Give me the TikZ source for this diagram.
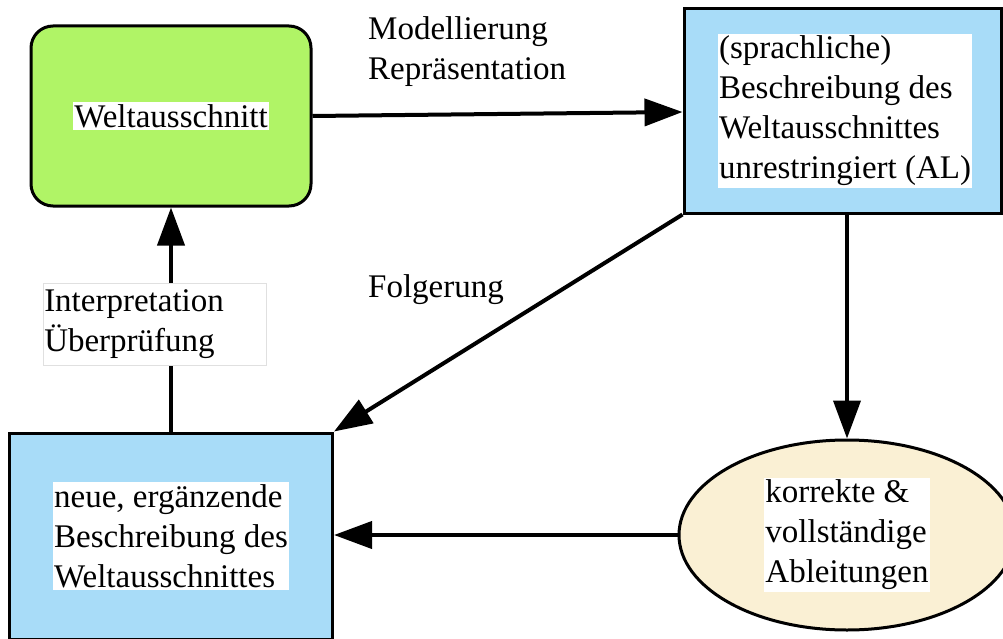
\documentclass[tikz,border=0pt]{standalone}
\usepackage{fontspec}
\setmainfont{Liberation Serif}
\usetikzlibrary{arrows.meta,shapes.geometric}
\definecolor{wgreen}{RGB}{176,244,102}
\definecolor{wblue}{RGB}{168,220,248}
\definecolor{wbeige}{RGB}{250,240,212}
\tikzset{
  box/.style={draw=black,line width=3pt,inner sep=0pt},
  txt/.style={fill=white,align=left,inner xsep=1pt,inner ysep=2pt,font=\fontsize{33}{40}\selectfont},
  lbl/.style={align=left,inner sep=0pt,anchor=north west,font=\fontsize{33}{40}\selectfont},
  arr/.style={line width=4pt,-{Triangle[length=38pt,width=27pt]}},
}
\begin{document}
\begin{tikzpicture}[x=1pt,y=-1pt]
\useasboundingbox (0,0) rectangle (1003,639);
\clip (0,0) rectangle (1003,639);
\fill[white] (0,0) rectangle (1003,639);
% nodes
\node[box,fill=wgreen,rounded corners=22pt,minimum width=280pt,minimum height=180pt] (W) at (171,116) {};
\node[txt] (Wt) at (W.center) {Weltausschnitt};
\node[box,fill=wblue,minimum width=317.5pt,minimum height=204pt] (B) at (842.75,111) {};
\node[txt] (Bt) at (845,111) {(sprachliche)\\Beschreibung des\\Weltausschnittes\\unrestringiert (AL)};
\node[box,fill=wblue,minimum width=323pt,minimum height=206pt] (N) at (171,536) {};
\node[txt] (Nt) at (N.center) {neue, ergänzende\\Beschreibung des\\Weltausschnittes};
\node[ellipse,draw=black,line width=3pt,fill=wbeige,minimum width=336pt,minimum height=190pt,inner sep=0pt] (E) at (847,535) {};
\node[txt] (Et) at (E.center) {korrekte \&\\vollständige\\Ableitungen};
% connectors
\draw[arr] (W.east) -- (B.west |- 0,112);
\draw[arr] (E.north |- B.south) -- (E.north);
\draw[arr] (B.south west) -- (N.north east);
\draw[arr] (E.west) -- (N.east |- E.west);
\draw[arr] (N.north) -- (W.south);
% labels
\node[lbl] (L1) at (368,16) {Modellierung\\Repräsentation};
\node[lbl] (L2) at (368,274) {Folgerung};
\node[fill=white,draw=black!12,line width=0.5pt,align=left,text width=221pt,minimum height=82pt,inner xsep=1pt,inner ysep=3pt,anchor=north west,font=\fontsize{33}{40}\selectfont] (L3) at (43,283) {Interpretation\\Überprüfung};
\end{tikzpicture}
\end{document}
